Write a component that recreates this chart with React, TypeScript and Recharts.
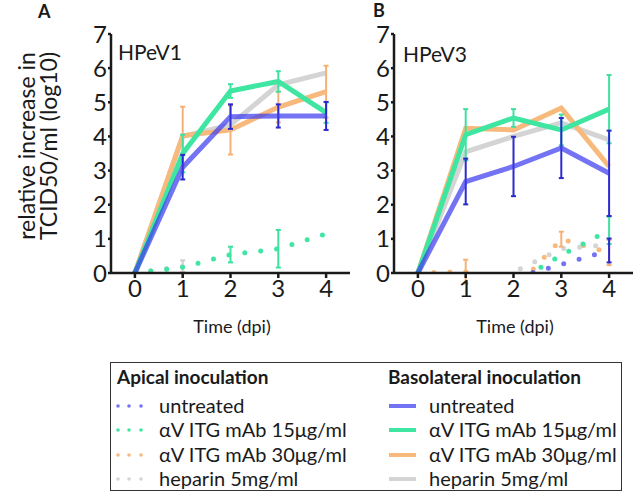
import React from 'react'
import { ErrorBar, Line, LineChart, XAxis, YAxis } from 'recharts'

const days = [0, 1, 2, 3, 4]
const yTicks = [0, 1, 2, 3, 4, 5, 6, 7]

// HPeV1, basolateral inoculation (mean log10 increase and SD)
const v1BasoUntreated = [0, 3.1, 4.58, 4.6, 4.6]
const v1BasoUntreatedSd = [null, 0.36, 0.36, 0.34, 0.41]
const v1BasoMab15 = [0, 3.5, 5.33, 5.61, 4.7]
const v1BasoMab15Sd = [null, 0.55, 0.2, 0.3, 0.3]
const v1BasoMab30 = [0, 4.02, 4.19, 4.86, 5.31]
const v1BasoMab30Sd = [null, 0.85, 0.72, 0.45, 0.76]
const v1BasoHeparin = [0, 4.0, 4.34, 5.51, 5.86]

// HPeV1, apical inoculation
const v1ApiUntreated = [0, -0.6, -1, -1, -1]
const v1ApiMab15 = [0, 0.17, 0.54, 0.71, 1.15]
const v1ApiMab15Sd = [null, null, 0.23, 0.55, null]
const v1ApiMab30 = [0, -0.6, -1, -1, -1]
const v1ApiHeparin = [0, 0.2, -1.2, -1.5, -1.5]
const v1ApiHeparinSd = [null, 0.17, null, null, null]

// HPeV3, basolateral inoculation
const v3BasoUntreated = [0, 2.68, 3.12, 3.66, 2.92]
const v3BasoUntreatedSd = [null, 0.67, 0.87, 0.88, 1.25]
const v3BasoMab15 = [0, 4.05, 4.54, 4.19, 4.8]
const v3BasoMab15Sd = [null, 0.75, 0.26, 0.45, 1.0]
const v3BasoMab30 = [0, 4.24, 4.19, 4.83, 3.12]
const v3BasoHeparin = [0, 3.55, 4.0, 4.4, 3.9]

// HPeV3, apical inoculation
const v3ApiUntreated = [0, -0.8, -0.15, 0.25, 0.66]
const v3ApiUntreatedSd = [null, null, null, null, 0.35]
const v3ApiMab15 = [0, -1, -0.3, 0.52, 1.25]
const v3ApiMab15Sd = [null, null, null, null, 0.4]
const v3ApiMab30 = [0, 0.04, -0.5, 0.99, 0.6]
const v3ApiMab30Sd = [null, 0.35, null, 0.22, 0.37]
const v3ApiHeparin = [0, -0.6, 0.03, 0.71, 0.83]

const treatments = ['untreated', 'αV ITG mAb 15μg/ml', 'αV ITG mAb 30μg/ml', 'heparin 5mg/ml']

const FONT = 'Lato, sans-serif'
const INK = '#1a1a1a'
const colors = {
  untreated: '#3d3dee',
  mab15: '#3fe6a2',
  mab30: '#f8b97c',
  heparin: '#d4d4d4'
}
const errColors = {
  untreated: '#2a2ad0',
  mab15: '#3fe0a0',
  mab30: '#f5b175',
  heparin: '#cccccc'
}
const keys = ['heparin', 'mab30', 'mab15', 'untreated'] as const

function buildRows(cols: Record<string, (number | null)[]>) {
  return days.map((d, i) => {
    const row: Record<string, number | null> = { day: d }
    Object.keys(cols).forEach(k => {
      row[k] = cols[k][i]
    })
    return row
  })
}

const hpev1Rows = buildRows({
  api_untreated: v1ApiUntreated,
  api_mab15: v1ApiMab15,
  api_mab15_sd: v1ApiMab15Sd,
  api_mab30: v1ApiMab30,
  api_heparin: v1ApiHeparin,
  api_heparin_sd: v1ApiHeparinSd,
  baso_untreated: v1BasoUntreated,
  baso_untreated_sd: v1BasoUntreatedSd,
  baso_mab15: v1BasoMab15,
  baso_mab15_sd: v1BasoMab15Sd,
  baso_mab30: v1BasoMab30,
  baso_mab30_sd: v1BasoMab30Sd,
  baso_heparin: v1BasoHeparin
})

const hpev3Rows = buildRows({
  api_untreated: v3ApiUntreated,
  api_untreated_sd: v3ApiUntreatedSd,
  api_mab15: v3ApiMab15,
  api_mab15_sd: v3ApiMab15Sd,
  api_mab30: v3ApiMab30,
  api_mab30_sd: v3ApiMab30Sd,
  api_heparin: v3ApiHeparin,
  baso_untreated: v3BasoUntreated,
  baso_untreated_sd: v3BasoUntreatedSd,
  baso_mab15: v3BasoMab15,
  baso_mab15_sd: v3BasoMab15Sd,
  baso_mab30: v3BasoMab30,
  baso_heparin: v3BasoHeparin
})

function Panel({ rows, left, width }: { rows: Record<string, number | null>[]; left: number; width: number }) {
  const hasKey = (k: string) => rows.some(r => r[k] != null)
  return (
    <div style={{ position: 'absolute', left, top: 0 }}>
      <LineChart
        width={width}
        height={340}
        data={rows}
        margin={{ top: 34, right: width - 350, left: 71, bottom: 37 }}
      >
        <XAxis
          dataKey="day"
          type="number"
          domain={[-0.5, 4.5]}
          ticks={days}
          allowDataOverflow
          height={30}
          tickSize={5}
          tickMargin={2}
          axisLine={{ stroke: INK, strokeWidth: 2.5 }}
          tickLine={{ stroke: INK, strokeWidth: 2.5 }}
          tick={{ fontSize: 24, fill: INK, fontFamily: FONT }}
        />
        <YAxis
          type="number"
          domain={[0, 7]}
          ticks={yTicks}
          allowDataOverflow
          width={40}
          tickSize={3}
          tickMargin={1}
          axisLine={{ stroke: INK, strokeWidth: 2.5 }}
          tickLine={{ stroke: INK, strokeWidth: 2.5 }}
          tick={{ fontSize: 24, fill: INK, fontFamily: FONT }}
        />
        {keys.map(k => (
          <Line
            key={`api_${k}`}
            dataKey={`api_${k}`}
            stroke={colors[k]}
            strokeOpacity={k === 'untreated' ? 0.72 : 1}
            strokeWidth={5}
            strokeDasharray="0 16"
            strokeLinecap="round"
            dot={false}
            activeDot={false}
            isAnimationActive={false}
          >
            {hasKey(`api_${k}_sd`) && (
              <ErrorBar
                dataKey={`api_${k}_sd`}
                direction="y"
                width={2.5}
                stroke={errColors[k]}
                strokeWidth={2}
              />
            )}
          </Line>
        ))}
        {keys.map(k => (
          <Line
            key={`baso_${k}`}
            dataKey={`baso_${k}`}
            stroke={colors[k]}
            strokeOpacity={k === 'untreated' ? 0.72 : 1}
            strokeWidth={5}
            dot={false}
            activeDot={false}
            isAnimationActive={false}
          >
            {hasKey(`baso_${k}_sd`) && (
              <ErrorBar
                dataKey={`baso_${k}_sd`}
                direction="y"
                width={2.5}
                stroke={errColors[k]}
                strokeWidth={2}
              />
            )}
          </Line>
        ))}
      </LineChart>
    </div>
  )
}

function Labels() {
  return (
    <svg
      width={638}
      height={498}
      style={{ position: 'absolute', left: 0, top: 0, pointerEvents: 'none' }}
      fontFamily={FONT}
      fill={INK}
    >
      <text x={38} y={18} fontSize={18} fontWeight={700}>A</text>
      <text x={373} y={17} fontSize={18} fontWeight={700}>B</text>
      <g transform="translate(35,146) rotate(-90)">
        <text x={0} y={0} fontSize={23} textAnchor="middle">relative increase in</text>
      </g>
      <g transform="translate(57,146) rotate(-90)">
        <text x={0} y={0} fontSize={23} textAnchor="middle">TCID50/ml (log10)</text>
      </g>
      <text x={118} y={60} fontSize={21}>HPeV1</text>
      <text x={403} y={62} fontSize={21}>HPeV3</text>
      <text x={232} y={333} fontSize={18} textAnchor="middle">Time (dpi)</text>
      <text x={515} y={333} fontSize={18} textAnchor="middle">Time (dpi)</text>
    </svg>
  )
}

function LegendBox() {
  const rowsY = [406, 430, 455, 479]
  const order = ['untreated', 'mab15', 'mab30', 'heparin'] as const
  return (
    <div
      style={{
        position: 'absolute',
        left: 110,
        top: 362,
        width: 512,
        height: 129,
        border: '1.5px solid #333',
        boxSizing: 'border-box'
      }}
    >
      <svg width={512} height={129} style={{ position: 'absolute', left: -1.5, top: -1.5 }} fontFamily={FONT} fill={INK}>
        <text x={7} y={22} fontSize={19} fontWeight={700}>Apical inoculation</text>
        <text x={278} y={22} fontSize={19} fontWeight={700}>Basolateral inoculation</text>
        {order.map((k, i) => {
          const y = rowsY[i] - 362
          return (
            <g key={k}>
              {[8, 19, 31].map(dx => (
                <circle key={dx} cx={dx} cy={y} r={1.8} fill={colors[k]} fillOpacity={k === 'untreated' ? 0.72 : 1} />
              ))}
              <text x={49} y={y + 7} fontSize={20}>{treatments[i]}</text>
              <line x1={279} x2={306} y1={y} y2={y} stroke={colors[k]} strokeOpacity={k === 'untreated' ? 0.72 : 1} strokeWidth={4} />
              <text x={319} y={y + 7} fontSize={20}>{treatments[i]}</text>
            </g>
          )
        })}
      </svg>
    </div>
  )
}

export default function App() {
  return (
    <div style={{ position: 'absolute', left: 0, top: 0, width: 638, height: 498, background: '#fff', fontFamily: FONT }}>
      <Panel rows={hpev1Rows} left={0} width={360} />
      <Panel rows={hpev3Rows} left={283} width={355} />
      <Labels />
      <LegendBox />
    </div>
  )
}
